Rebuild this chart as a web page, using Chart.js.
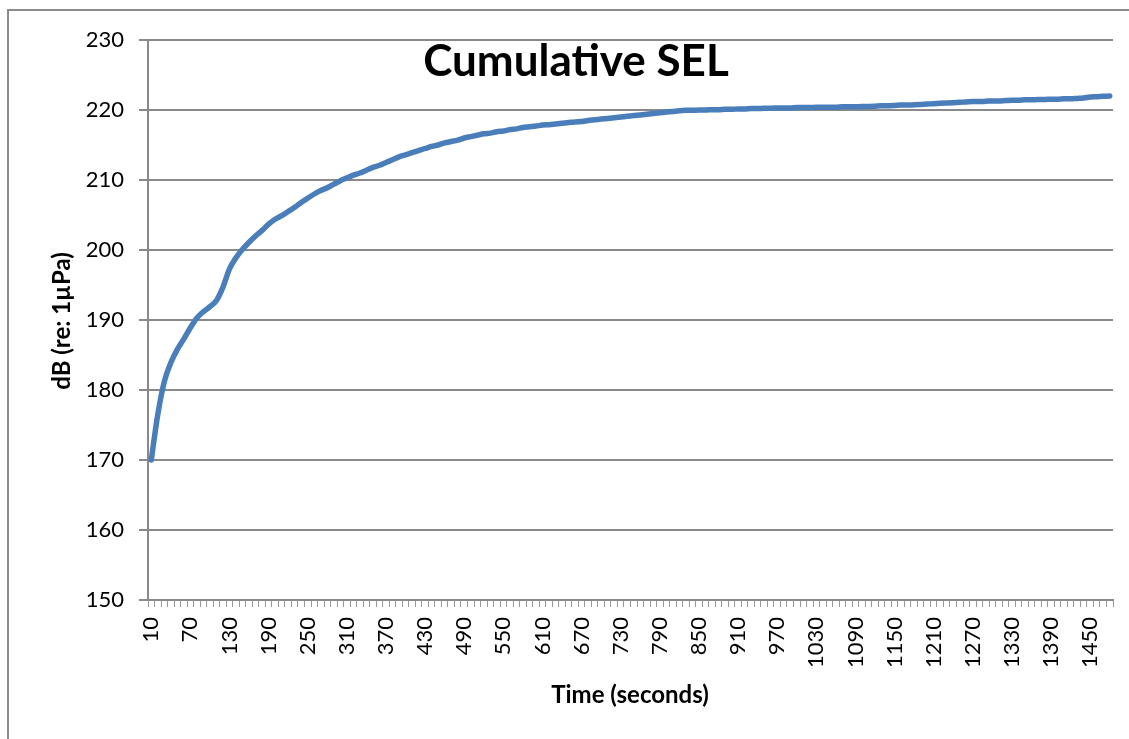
<!DOCTYPE html>
<html>
<head>
<meta charset="utf-8">
<script src="https://cdn.jsdelivr.net/npm/chart.js@4"></script>
<style>
html,body{margin:0;padding:0;background:#fff;}
#wrap{position:relative;width:1129px;height:739px;}
</style>
</head>
<body>
<div id="wrap"><canvas id="c"></canvas></div>
<script>
const chartTitle = "Cumulative SEL";
const xTitle = "Time (seconds)";
const yTitle = "dB (re: 1µPa)";

const times = [10,20,30,40,50,60,70,80,90,100,110,120,130,140,150,160,170,180,190,200,
210,220,230,240,250,260,270,280,290,300,310,320,330,340,350,360,370,380,390,400,
410,420,430,440,450,460,470,480,490,500,510,520,530,540,550,560,570,580,590,600,
610,620,630,640,650,660,670,680,690,700,710,720,730,740,750,760,770,780,790,800,
810,820,830,840,850,860,870,880,890,900,910,920,930,940,950,960,970,980,990,1000,
1010,1020,1030,1040,1050,1060,1070,1080,1090,1100,1110,1120,1130,1140,1150,1160,1170,1180,1190,1200,
1210,1220,1230,1240,1250,1260,1270,1280,1290,1300,1310,1320,1330,1340,1350,1360,1370,1380,1390,1400,
1410,1420,1430,1440,1450,1460,1470,1480];

const selValues = [170.0,176.5,181.2,183.9,185.8,187.3,188.9,190.3,191.2,191.9,
192.8,194.7,197.3,198.9,200.1,201.1,202.0,202.8,203.7,204.4,
204.9,205.5,206.1,206.8,207.4,208.0,208.5,208.9,209.4,209.9,
210.3,210.7,211.0,211.4,211.8,212.1,212.5,212.9,213.3,213.6,
213.9,214.2,214.5,214.8,215.0,215.3,215.5,215.7,216.0,216.2,
216.4,216.6,216.7,216.9,217.0,217.2,217.3,217.5,217.6,217.7,
217.85,217.9,218.0,218.1,218.2,218.3,218.35,218.5,218.6,218.7,
218.8,218.9,219.0,219.1,219.2,219.3,219.4,219.5,219.6,219.7,
219.8,219.9,219.95,219.95,220.0,220.0,220.05,220.05,220.1,220.1,
220.15,220.15,220.2,220.2,220.25,220.25,220.3,220.3,220.3,220.35,
220.35,220.35,220.4,220.4,220.4,220.4,220.45,220.45,220.45,220.5,
220.5,220.55,220.6,220.6,220.65,220.7,220.7,220.75,220.8,220.85,
220.9,220.95,221.0,221.05,221.1,221.15,221.2,221.2,221.25,221.3,
221.3,221.35,221.4,221.4,221.45,221.45,221.5,221.5,221.55,221.55,
221.6,221.6,221.65,221.7,221.85,221.9,221.95,222.0];

const yMin = 150, yMax = 230, yStep = 10;
const labelEvery = 6;

const GRID = '#898989';
const FONT = 'Lato, "Open Sans", sans-serif';

const decorPlugin = {
  id: 'decor',
  beforeDraw(chart) {
    const ctx = chart.ctx;
    ctx.save();
    ctx.strokeStyle = '#8c8c8c';
    ctx.lineWidth = 2;
    ctx.beginPath();
    ctx.moveTo(8, 739);
    ctx.lineTo(8, 10);
    ctx.lineTo(1129, 10);
    ctx.stroke();
    ctx.restore();
  },
  afterDraw(chart) {
    const ctx = chart.ctx;
    ctx.save();
    ctx.fillStyle = '#000';
    ctx.textAlign = 'center';
    ctx.textBaseline = 'middle';
    ctx.font = 'bold 44px ' + FONT;
    ctx.fillText(chartTitle, 576, 62);
    ctx.font = 'bold 24px ' + FONT;
    ctx.fillText(xTitle, 630, 695);
    ctx.translate(62, 321);
    ctx.rotate(-Math.PI / 2);
    ctx.fillText(yTitle, 0, 0);
    ctx.restore();
  }
};

new Chart(document.getElementById('c'), {
  type: 'line',
  data: {
    labels: times,
    datasets: [{
      data: selValues,
      borderColor: '#4a7ebb',
      borderWidth: 5.5,
      borderCapStyle: 'round',
      borderJoinStyle: 'round',
      pointRadius: 0,
      fill: false,
      cubicInterpolationMode: 'monotone'
    }]
  },
  options: {
    responsive: true,
    maintainAspectRatio: false,
    animation: false,
    layout: { padding: { left: 0, top: 40, right: 16, bottom: 0 } },
    plugins: { legend: { display: false }, tooltip: { enabled: false }, title: { display: false } },
    scales: {
      x: {
        type: 'category',
        offset: true,
        grid: { display: true, drawOnChartArea: false, drawTicks: true, tickLength: 7, color: '#9a9a9a', lineWidth: 1, offset: true },
        border: { display: true, color: GRID, width: 2 },
        ticks: {
          autoSkip: false,
          maxRotation: 90,
          minRotation: 90,
          padding: 10,
          color: '#000',
          font: { family: FONT, size: 22 },
          callback: function(value, index) {
            return index % labelEvery === 0 ? String(this.getLabelForValue(value)) : '';
          }
        },
        afterFit(scale) { scale.height = 139; scale.paddingLeft = 0; scale.paddingRight = 0; }
      },
      y: {
        min: yMin,
        max: yMax,
        grid: { color: GRID, lineWidth: 2, drawTicks: true, tickLength: 9 },
        border: { display: true, color: GRID, width: 2 },
        ticks: {
          stepSize: yStep,
          padding: 15,
          color: '#000',
          font: { family: FONT, size: 22 }
        },
        afterFit(scale) { scale.width = 148; scale.paddingTop = 0; scale.paddingBottom = 0; }
      }
    }
  },
  plugins: [decorPlugin]
});
</script>
</body>
</html>
